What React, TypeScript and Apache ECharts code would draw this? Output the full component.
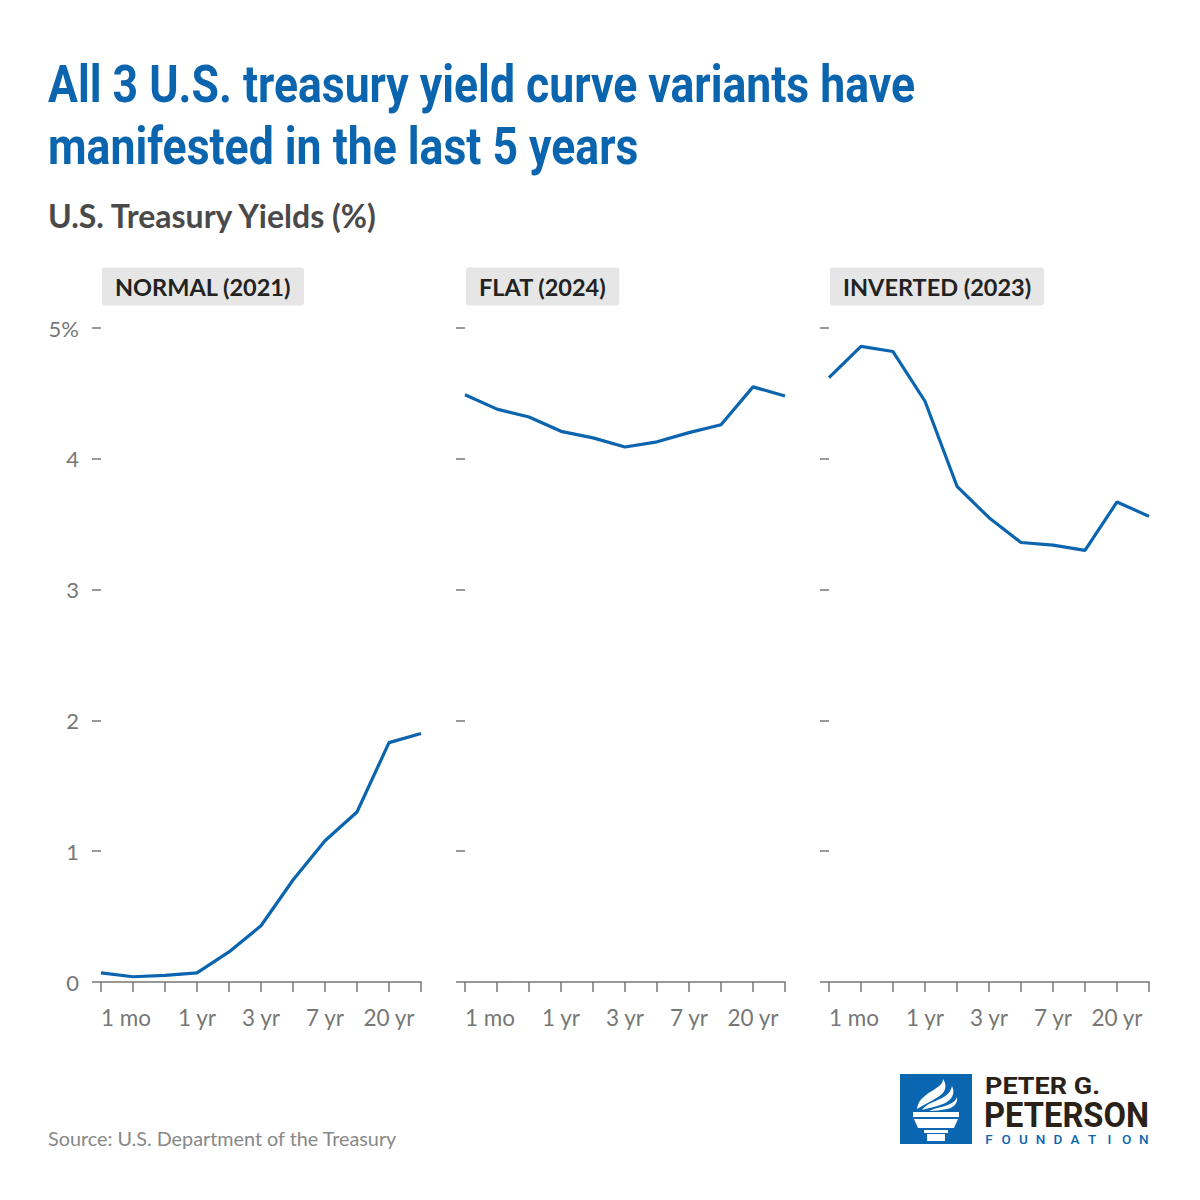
import React, { useEffect, useRef } from 'react';
import * as echarts from 'echarts';

const categories = ['1 mo', '3 mo', '6 mo', '1 yr', '2 yr', '3 yr', '5 yr', '7 yr', '10 yr', '20 yr', '30 yr'];
const normal2021 = [0.07, 0.04, 0.05, 0.07, 0.23, 0.43, 0.78, 1.08, 1.3, 1.83, 1.9];
const flat2024 = [4.49, 4.38, 4.32, 4.21, 4.16, 4.09, 4.13, 4.2, 4.26, 4.55, 4.48];
const inverted2023 = [4.62, 4.86, 4.82, 4.44, 3.79, 3.55, 3.36, 3.34, 3.3, 3.67, 3.56];
const panelTitles = ['NORMAL (2021)', 'FLAT (2024)', 'INVERTED (2023)'];
const panelSeries = [normal2021, flat2024, inverted2023];
const xTickLabels = ['1 mo', '1 yr', '3 yr', '7 yr', '20 yr'];
const yMax = 5;
const yStep = 1;

const BLUE = '#0a64ae';
const GREY = '#777777';
const LATO = 'Lato, "Noto Sans", sans-serif';
const ROBOTO = 'Roboto, "Noto Sans", sans-serif';

const PANEL_LEFT = [101, 465, 829];
const PANEL_W = 320;
const PANEL_TOP = 328;
const PANEL_H = 654;

const TITLE_LINES = ['All 3 U.S. treasury yield curve variants have', 'manifested in the last 5 years'];

echarts.graphic.registerShape(
  'torchFlame',
  echarts.graphic.extendPath(
    'M17 35 C18 25 27 20 35 15 C40 12 43 9 43 5 C48 12 45 19 38 23 C30 28 23 31 17 35 Z ' +
      'M22 36 C26 30 34 28 42 24 C48 21 51 17 52 12 C56 20 51 27 43 30 C35 33 28 34 22 36 Z ' +
      'M29 37 C35 34 44 33 50 30 C54 28 56 26 57 23 C58 30 53 34 47 35 C41 36 35 37 29 37 Z',
    {}
  )
);

// condensed look: squeeze a bold sans to the width the reference shows
function textWidth(text: string, font: string) {
  const ctx = document.createElement('canvas').getContext('2d');
  if (!ctx) return text.length * 20;
  ctx.font = font;
  return ctx.measureText(text).width;
}

export default function App() {
  const chartRef = useRef<HTMLDivElement>(null);

  useEffect(() => {
    if (!chartRef.current) return;
    const chart = echarts.init(chartRef.current, undefined, { renderer: 'svg' });

    const grids = PANEL_LEFT.map(left => ({ left, top: PANEL_TOP, width: PANEL_W, height: PANEL_H }));

    const xAxes = PANEL_LEFT.map((_, i) => ({
      type: 'category' as const,
      gridIndex: i,
      data: categories,
      boundaryGap: false,
      axisLine: { show: true, lineStyle: { color: GREY, width: 1.5 } },
      axisTick: { show: true, interval: 0, length: 10, lineStyle: { color: GREY, width: 1.5 } },
      axisLabel: {
        interval: (_idx: number, value: string) => xTickLabels.includes(value),
        alignMinLabel: 'left',
        color: GREY,
        fontFamily: LATO,
        fontSize: 22.5,
        margin: 24,
      },
      splitLine: { show: false },
    }));

    const yAxes = PANEL_LEFT.map((_, i) => ({
      type: 'value' as const,
      gridIndex: i,
      min: 0,
      max: yMax,
      interval: yStep,
      axisLine: { show: false },
      axisTick: { show: true, length: 9, lineStyle: { color: GREY, width: 1.5 } },
      axisLabel: {
        show: i === 0,
        color: GREY,
        fontFamily: LATO,
        fontSize: 22,
        margin: 22,
        formatter: (v: number) => (v === yMax ? `${v}%` : String(v)),
      },
      splitLine: { show: false },
    }));

    const series = panelSeries.map((data, i) => ({
      type: 'line' as const,
      xAxisIndex: i,
      yAxisIndex: i,
      data,
      showSymbol: false,
      symbol: 'none',
      lineStyle: { color: BLUE, width: 3.2 },
    }));

    const titles: any[] = [
      {
        text: 'U.S. Treasury Yields (%)',
        left: 48,
        top: 199,
        padding: 0,
        textStyle: { fontFamily: LATO, fontSize: 32, fontWeight: 'bold', color: '#4a4a4a', lineHeight: 32 },
      },
      ...panelTitles.map((t, i) => ({
        text: t,
        left: PANEL_LEFT[i] + 1,
        top: 268,
        padding: [7, 13, 7, 13],
        backgroundColor: '#e6e6e6',
        borderRadius: 3,
        textStyle: { fontFamily: LATO, fontSize: 23.5, fontWeight: 'bold', color: '#222222', lineHeight: 23 },
      })),
      {
        text: 'Source: U.S. Department of the Treasury',
        left: 48,
        top: 1128,
        padding: 0,
        textStyle: { fontFamily: LATO, fontSize: 19.8, fontWeight: 'normal', color: '#888888', lineHeight: 20 },
      },
    ];

    const titleFont = `bold 52px ${ROBOTO}`;
    const titleScale = 867 / textWidth(TITLE_LINES[0], titleFont);
    const headline = TITLE_LINES.map((line, k) => ({
      type: 'text',
      x: 48,
      y: 84 + k * 62,
      scaleX: titleScale,
      style: { text: line, font: titleFont, fill: BLUE, textAlign: 'left', textVerticalAlign: 'middle' },
    }));

    const peterFont = `bold 23px ${ROBOTO}`;
    const petersonFont = `bold 36px ${ROBOTO}`;
    const foundationFont = `500 13.5px ${ROBOTO}`;
    const foundation = 'FOUNDATION'.split('');

    const logo = {
      type: 'group',
      x: 900,
      y: 1074,
      children: [
        { type: 'rect', shape: { x: 0, y: 0, width: 72, height: 70 }, style: { fill: '#0a66b0' } },
        { type: 'torchFlame', x: 0, y: 0, style: { fill: '#ffffff' } },
        { type: 'rect', shape: { x: 13, y: 38, width: 46, height: 5 }, style: { fill: '#ffffff' } },
        { type: 'polygon', shape: { points: [[14, 45], [58, 45], [54, 54], [18, 54]] }, style: { fill: '#ffffff' } },
        { type: 'rect', shape: { x: 24, y: 56, width: 24, height: 3 }, style: { fill: '#ffffff' } },
        { type: 'rect', shape: { x: 27, y: 60, width: 18, height: 7 }, style: { fill: '#ffffff' } },
        {
          type: 'text',
          x: 85,
          y: 12.5,
          scaleX: 115 / textWidth('PETER G.', peterFont),
          style: { text: 'PETER G.', font: peterFont, fill: '#2a2218', textVerticalAlign: 'middle' },
        },
        {
          type: 'text',
          x: 84,
          y: 40,
          scaleX: 165 / textWidth('PETERSON', petersonFont),
          style: { text: 'PETERSON', font: petersonFont, fill: '#2a2218', textVerticalAlign: 'middle' },
        },
        ...foundation.map((ch, k) => ({
          type: 'text',
          x: 89 + k * 17.2,
          y: 65,
          style: { text: ch, font: foundationFont, fill: '#0a66b0', textAlign: 'center', textVerticalAlign: 'middle' },
        })),
      ],
    };

    chart.setOption({
      animation: false,
      backgroundColor: '#ffffff',
      title: titles,
      grid: grids,
      xAxis: xAxes,
      yAxis: yAxes,
      series,
      graphic: [...headline, logo],
    });

    return () => {
      chart.dispose();
    };
  }, []);

  return (
    <div style={{ position: 'absolute', left: 0, top: 0, width: 1200, height: 1200, background: '#fff' }}>
      <div ref={chartRef} style={{ width: 1200, height: 1200 }} />
    </div>
  );
}
